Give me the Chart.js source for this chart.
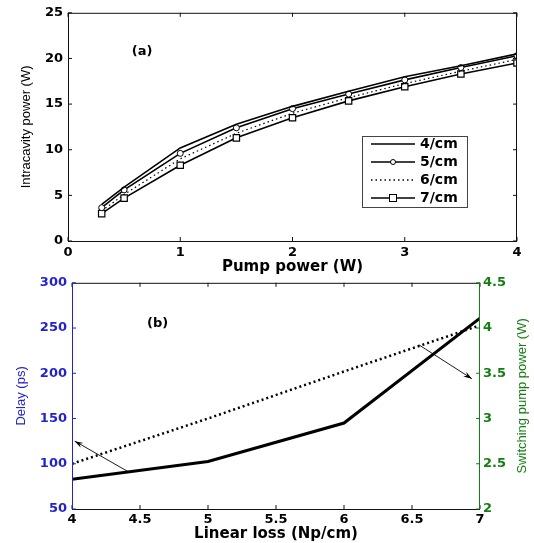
<!DOCTYPE html>
<html><head><meta charset="utf-8">
<script src="https://cdn.jsdelivr.net/npm/chart.js@4.4.1/dist/chart.umd.min.js"></script>
<style>
html,body{margin:0;padding:0;background:#fff;}
#wrap{width:534px;height:543px;position:relative;}
canvas{display:block;position:absolute;left:0;}
#c1{top:0;} #c2{top:270px;}
</style></head><body>
<div id="wrap">
<canvas id="c1" width="534" height="276"></canvas>
<canvas id="c2" width="534" height="273"></canvas>
</div>
<script>
// ---- Data (a) ----
const pumpPower = [0.3, 0.5, 1, 1.5, 2, 2.5, 3, 3.5, 4];
const loss4 = [4.0, 5.9, 10.2, 12.8, 14.75, 16.4, 18.0, 19.2, 20.5];
const loss5 = [3.65, 5.6, 9.6, 12.4, 14.5, 16.1, 17.65, 19.0, 20.3];
const loss6 = [3.3, 5.1, 9.0, 11.8, 14.0, 15.7, 17.25, 18.6, 19.9];
const loss7 = [3.0, 4.7, 8.3, 11.3, 13.5, 15.35, 16.9, 18.3, 19.5];
const seriesNamesA = ['4/cm', '5/cm', '6/cm', '7/cm'];
// ---- Data (b) ----
const linearLoss = [4, 5, 6, 7];
const delayPs = [83, 102.5, 145, 261];
const switchPower = [2.5, 3.0, 3.52, 4.03];
// annotation arrows (data coords: x, delay axis)
const arrowsB = [
  {x1: 4.41, y1: 91.5, x2: 4.02, y2: 125},
  {x1: 6.55, y1: 231.5, x2: 6.94, y2: 194}
];

const FONT = 'Liberation Sans, Arial, sans-serif';
const WFONT = 'DejaVu Sans, Verdana, sans-serif';
const BLUE = '#2323cc';
const GREEN = '#137f13';

Chart.defaults.font.family = FONT;
Chart.defaults.animation = false;

function innerTicks(ctx, scale, isX, a, fromEnd, len) {
  scale.ticks.forEach(t => {
    const p = scale.getPixelForValue(t.value);
    ctx.beginPath();
    if (isX) {
      ctx.moveTo(p, a.bottom); ctx.lineTo(p, a.bottom - len);
      ctx.moveTo(p, a.top); ctx.lineTo(p, a.top + len);
    } else {
      if (fromEnd === 'left') { ctx.moveTo(a.left, p); ctx.lineTo(a.left + len, p); }
      else { ctx.moveTo(a.right, p); ctx.lineTo(a.right - len, p); }
    }
    ctx.stroke();
  });
}

const frameA = {
  id: 'frameA',
  afterDatasetsDraw(chart) {
    const {ctx, chartArea: a, scales} = chart;
    ctx.save();
    ctx.strokeStyle = '#111'; ctx.lineWidth = 1;
    ctx.strokeRect(a.left + 0.5, a.top + 0.5, a.right - a.left - 1, a.bottom - a.top);
    innerTicks(ctx, scales.x, true, a, null, 4);
    innerTicks(ctx, scales.y, false, a, 'left', 4);
    innerTicks(ctx, scales.y, false, a, 'right', 4);
    // label (a)
    ctx.fillStyle = '#000';
    ctx.font = 'bold 13px ' + WFONT;
    ctx.textAlign = 'center'; ctx.textBaseline = 'middle';
    ctx.fillText('(a)', scales.x.getPixelForValue(0.66), scales.y.getPixelForValue(20.8));
    // legend
    const lx = 362, ly = 136, lw = 105, lh = 71;
    ctx.fillStyle = '#fff';
    ctx.fillRect(lx, ly, lw, lh);
    ctx.strokeStyle = '#444';
    ctx.strokeRect(lx + 0.5, ly + 0.5, lw, lh);
    const rows = [144, 162, 180, 198];
    chart.data.datasets.forEach((ds, i) => {
      const y = rows[i];
      ctx.strokeStyle = '#000'; ctx.lineWidth = 1.3;
      ctx.setLineDash(ds.borderDash || []);
      ctx.beginPath(); ctx.moveTo(371, y); ctx.lineTo(415, y); ctx.stroke();
      ctx.setLineDash([]);
      ctx.lineWidth = 1;
      if (ds.pointStyle === 'circle' && ds.pointRadius > 0) {
        ctx.fillStyle = '#fff';
        ctx.beginPath(); ctx.arc(393, y, 2.5, 0, Math.PI * 2); ctx.fill(); ctx.stroke();
      } else if (ds.pointStyle === 'rect' && ds.pointRadius > 0) {
        ctx.fillStyle = '#fff';
        ctx.fillRect(389.5, y - 3.5, 7, 7); ctx.strokeRect(389.5, y - 3.5, 7, 7);
      }
      ctx.fillStyle = '#000';
      ctx.font = 'bold 14px ' + WFONT;
      ctx.textAlign = 'left'; ctx.textBaseline = 'middle';
      ctx.fillText(seriesNamesA[i], 420, y + 0.5);
    });
    ctx.restore();
  }
};

const frameB = {
  id: 'frameB',
  afterDatasetsDraw(chart) {
    const {ctx, chartArea: a, scales} = chart;
    ctx.save();
    ctx.lineWidth = 1;
    ctx.strokeStyle = '#111';
    ctx.beginPath();
    ctx.moveTo(a.left, a.top + 0.5); ctx.lineTo(a.right, a.top + 0.5);
    ctx.moveTo(a.left, a.bottom + 0.5); ctx.lineTo(a.right, a.bottom + 0.5);
    ctx.stroke();
    innerTicks(ctx, scales.x, true, a, null, 4);
    ctx.strokeStyle = BLUE;
    ctx.beginPath(); ctx.moveTo(a.left + 0.5, a.top); ctx.lineTo(a.left + 0.5, a.bottom); ctx.stroke();
    innerTicks(ctx, scales.y, false, a, 'left', 4);
    ctx.strokeStyle = GREEN;
    ctx.beginPath(); ctx.moveTo(a.right - 0.5, a.top); ctx.lineTo(a.right - 0.5, a.bottom); ctx.stroke();
    innerTicks(ctx, scales.y2, false, a, 'right', 4);
    // arrows
    ctx.strokeStyle = '#000'; ctx.fillStyle = '#000'; ctx.lineWidth = 0.9;
    arrowsB.forEach(ar => {
      const x1 = scales.x.getPixelForValue(ar.x1), y1 = scales.y.getPixelForValue(ar.y1);
      const x2 = scales.x.getPixelForValue(ar.x2), y2 = scales.y.getPixelForValue(ar.y2);
      ctx.beginPath(); ctx.moveTo(x1, y1); ctx.lineTo(x2, y2); ctx.stroke();
      const ang = Math.atan2(y2 - y1, x2 - x1), L = 9, w = 0.32;
      ctx.beginPath();
      ctx.moveTo(x2, y2);
      ctx.lineTo(x2 - L * Math.cos(ang - w), y2 - L * Math.sin(ang - w));
      ctx.lineTo(x2 - L * 0.6 * Math.cos(ang), y2 - L * 0.6 * Math.sin(ang));
      ctx.lineTo(x2 - L * Math.cos(ang + w), y2 - L * Math.sin(ang + w));
      ctx.closePath(); ctx.fill();
    });
    ctx.fillStyle = '#000';
    ctx.font = 'bold 13px ' + WFONT;
    ctx.textAlign = 'center'; ctx.textBaseline = 'middle';
    ctx.fillText('(b)', scales.x.getPixelForValue(4.63), scales.y.getPixelForValue(255));
    // right axis title, reading bottom to top
    ctx.save();
    ctx.translate(522, (a.top + a.bottom) / 2);
    ctx.rotate(-Math.PI / 2);
    ctx.fillStyle = GREEN;
    ctx.font = '13px ' + FONT;
    ctx.fillText('Switching pump power (W)', 0, 0);
    ctx.restore();
    ctx.restore();
  }
};

const tickFont = {size: 13, weight: 'bold', family: WFONT};
const fmt = v => String(Math.round(v * 100) / 100);

new Chart(document.getElementById('c1'), {
  type: 'line',
  data: {
    datasets: [
      {label: seriesNamesA[0], data: pumpPower.map((x, i) => ({x, y: loss4[i]})), borderColor: '#000', borderWidth: 1.6, pointRadius: 0, pointStyle: 'circle'},
      {label: seriesNamesA[1], data: pumpPower.map((x, i) => ({x, y: loss5[i]})), borderColor: '#000', borderWidth: 1.6, pointRadius: 3, pointStyle: 'circle', pointBackgroundColor: '#fff', pointBorderColor: '#000', pointBorderWidth: 1},
      {label: seriesNamesA[2], data: pumpPower.map((x, i) => ({x, y: loss6[i]})), borderColor: '#000', borderWidth: 1.2, borderDash: [1.5, 3], pointRadius: 0, pointStyle: 'circle'},
      {label: seriesNamesA[3], data: pumpPower.map((x, i) => ({x, y: loss7[i]})), borderColor: '#000', borderWidth: 1.6, pointRadius: 4.5, pointStyle: 'rect', pointBackgroundColor: '#fff', pointBorderColor: '#000', pointBorderWidth: 1.2}
    ]
  },
  options: {
    responsive: false,
    layout: {padding: {left: 0, right: 17, top: 12, bottom: 0}},
    plugins: {legend: {display: false}, tooltip: {enabled: false}},
    scales: {
      x: {type: 'linear', min: 0, max: 4, ticks: {stepSize: 1, color: '#000', font: tickFont, padding: 4, callback: fmt},
          grid: {display: false, drawTicks: false}, border: {display: false},
          title: {display: true, text: 'Pump power (W)', color: '#000', font: {size: 15, weight: 'bold', family: WFONT}, padding: {top: 0, bottom: 0}},
          afterFit(s) { s.height = 35; }},
      y: {type: 'linear', min: 0, max: 25, ticks: {stepSize: 5, color: '#000', font: tickFont, padding: 5, callback: fmt},
          grid: {display: false, drawTicks: false}, border: {display: false},
          title: {display: true, text: 'Intracavity power (W)', color: '#000', font: {size: 13, family: FONT}, padding: {top: 19, bottom: 0}},
          afterFit(s) { s.width = 68; }}
    }
  },
  plugins: [frameA]
});

new Chart(document.getElementById('c2'), {
  type: 'line',
  data: {
    datasets: [
      {label: 'Delay', data: linearLoss.map((x, i) => ({x, y: delayPs[i]})), yAxisID: 'y', borderColor: '#000', borderWidth: 3, pointRadius: 0},
      {label: 'Switching pump power', data: linearLoss.map((x, i) => ({x, y: switchPower[i]})), yAxisID: 'y2', borderColor: '#000', borderWidth: 2.5, borderDash: [2, 3], pointRadius: 0}
    ]
  },
  options: {
    responsive: false,
    layout: {padding: {left: 0, right: 0, top: 12, bottom: 0}},
    plugins: {legend: {display: false}, tooltip: {enabled: false}},
    scales: {
      x: {type: 'linear', min: 4, max: 7, ticks: {stepSize: 0.5, color: '#000', font: tickFont, padding: 3, callback: fmt},
          grid: {display: false, drawTicks: false}, border: {display: false},
          title: {display: true, text: 'Linear loss (Np/cm)', color: '#000', font: {size: 15, weight: 'bold', family: WFONT}, padding: {top: 0, bottom: 0}},
          afterFit(s) { s.height = 34; }},
      y: {type: 'linear', position: 'left', min: 50, max: 300, ticks: {stepSize: 50, color: BLUE, font: tickFont, padding: 5, callback: fmt},
          grid: {display: false, drawTicks: false}, border: {display: false},
          title: {display: true, text: 'Delay (ps)', color: BLUE, font: {size: 13, family: FONT}, padding: {top: 14, bottom: 0}},
          afterFit(s) { s.width = 72; }},
      y2: {type: 'linear', position: 'right', min: 2, max: 4.5, ticks: {stepSize: 0.5, color: GREEN, font: tickFont, padding: 3, callback: fmt},
          grid: {display: false, drawTicks: false, drawOnChartArea: false}, border: {display: false},
          title: {display: false},
          afterFit(s) { s.width = 54; }}
    }
  },
  plugins: [frameB]
});
</script>
</body></html>
